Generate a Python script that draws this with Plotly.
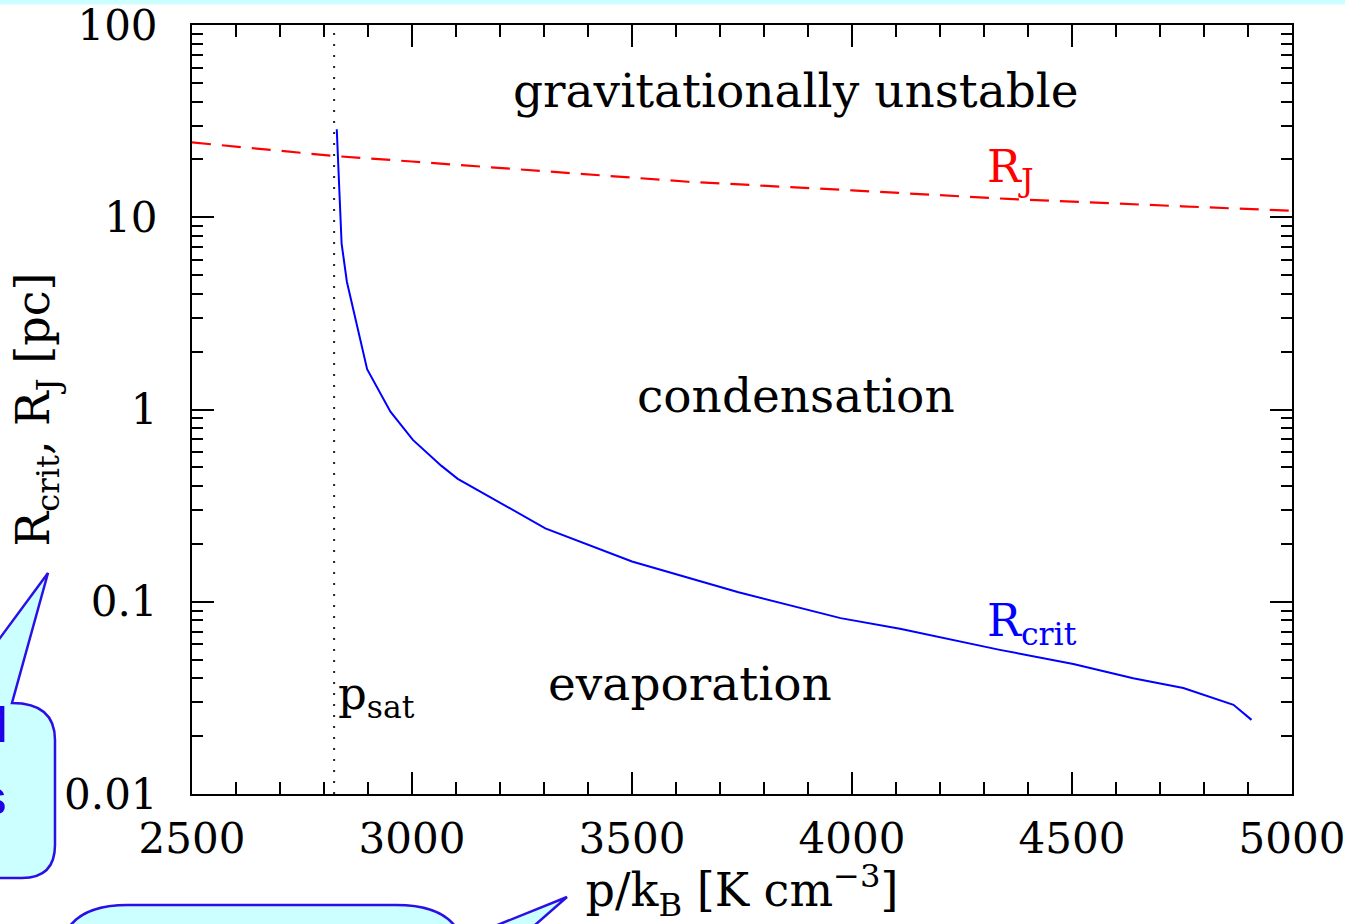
import numpy as np
import plotly.graph_objects as go

# ---- data ----
p_crit = [2829, 2840, 2852, 2898, 2951, 3002, 3067, 3104, 3303, 3500, 3742,
          3974, 4109, 4336, 4503, 4639, 4753, 4867, 4908]
r_crit = [28.7, 7.3, 4.62, 1.62, 0.975, 0.695, 0.509, 0.436, 0.241, 0.162, 0.112,
          0.0822, 0.0723, 0.0562, 0.0475, 0.0400, 0.0356, 0.0291, 0.0243]

p_jeans = [2500, 2827, 3000, 3250, 3627, 4000, 4355, 4750, 5000]
r_jeans = [24.5, 20.8, 19.5, 17.7, 15.3, 13.8, 12.45, 11.4, 10.8]

p_sat = 2823
y_span = [0.01, 100]

x_range = [2500, 5000]
y_range_log = [-2, 2]

region_labels = ["gravitationally unstable", "condensation", "evaporation"]
region_x = [3873, 3873, 3632]
region_y = [45.9, 1.18, 0.0374]

SERIF = "DejaVu Serif"
W, H = 1345, 924
L, R, T, B = 192, 53, 25, 130
PW, PH = W - L - R, H - T - B


def px(x):
    return (x - L) / PW


def py(y):
    return (H - B - y) / PH


fig = go.Figure()
fig.add_trace(go.Scatter(x=p_jeans, y=r_jeans, mode="lines",
                         line=dict(color="#FF0000", width=2.2, dash="19px,11px"),
                         showlegend=False, hoverinfo="skip"))
fig.add_trace(go.Scatter(x=[p_sat, p_sat], y=y_span, mode="lines",
                         line=dict(color="#222222", width=2, dash="2px,9px"),
                         showlegend=False, hoverinfo="skip"))
fig.add_trace(go.Scatter(x=p_crit, y=r_crit, mode="lines",
                         line=dict(color="#0000FF", width=2),
                         showlegend=False, hoverinfo="skip"))

tickfont = dict(family=SERIF, size=42, color="black")
axis_common = dict(ticks="inside", tickwidth=2, tickcolor="black",
                   showline=True, linewidth=2, linecolor="black", mirror="ticks",
                   showgrid=False, zeroline=False, tickfont=tickfont,
                   ticklabeloverflow="allow")

fig.update_xaxes(range=x_range, tick0=2500, dtick=500, ticklen=22,
                 minor=dict(dtick=100, ticks="inside", ticklen=12, tickwidth=2,
                            tickcolor="black", showgrid=False),
                 ticklabelstandoff=7,
                 title=dict(text="p/k<sub>B</sub> [K cm<sup>−3</sup>]",
                            font=dict(family=SERIF, size=46, color="black"),
                            standoff=2),
                 **axis_common)
fig.update_yaxes(type="log", range=y_range_log, dtick=1, ticklen=22,
                 minor=dict(dtick="D1", ticks="inside", ticklen=11, tickwidth=2,
                            tickcolor="black", showgrid=False),
                 ticklabelstandoff=24,
                 title=dict(text="R<sub>crit</sub>, R<sub>J</sub> [pc]",
                            font=dict(family=SERIF, size=46, color="black"),
                            standoff=0),
                 **axis_common)

annotations = []
for txt, xv, yv in zip(region_labels, region_x, region_y):
    annotations.append(dict(x=xv, y=np.log10(yv), xref="x", yref="y", text=txt,
                            showarrow=False, font=dict(family=SERIF, size=47, color="black")))
annotations.append(dict(x=p_sat + 5, y=np.log10(0.0325), xref="x", yref="y",
                        text="p<sub>sat</sub>", xanchor="left", showarrow=False,
                        font=dict(family=SERIF, size=45, color="black")))
annotations.append(dict(x=4302, y=np.log10(17.8), xref="x", yref="y",
                        text="R<sub>J</sub>", xanchor="left", showarrow=False,
                        font=dict(family=SERIF, size=45, color="#FF0000")))
annotations.append(dict(x=4302, y=np.log10(0.0775), xref="x", yref="y",
                        text="R<sub>crit</sub>", xanchor="left", showarrow=False,
                        font=dict(family=SERIF, size=45, color="#0000FF")))
# partially visible callout text at the left edge
annotations.append(dict(x=px(-8), y=py(755), xref="paper", yref="paper", text="<b>l</b>",
                        xanchor="left", showarrow=False,
                        font=dict(family="Liberation Sans", size=50, color="#2000E8")))
annotations.append(dict(x=px(-23), y=py(828), xref="paper", yref="paper", text="<b>s</b>",
                        xanchor="left", showarrow=False,
                        font=dict(family="Liberation Sans", size=50, color="#2000E8")))

BORDER = "#2A10E6"
FILL = "#CCFFFF"


def path(cmds):
    out = []
    for c in cmds:
        if isinstance(c, str):
            out.append(c)
        else:
            out.append(f"{px(c[0]):.5f},{py(c[1]):.5f}")
    return " ".join(out)


shapes = [
    dict(type="rect", xref="paper", yref="paper", x0=px(0), x1=px(W), y0=py(4.5), y1=py(-2),
         fillcolor=FILL, line=dict(width=0), layer="above"),
    dict(type="path", xref="paper", yref="paper", layer="below",
         path=path(["M", (-48, 703), "L", (48, 573), "L", (12, 703), "Q", (55, 703), (55, 740),
                    "L", (55, 845), "Q", (55, 878), (22, 878), "L", (-30, 878), "Z"]),
         fillcolor=FILL, line=dict(color=BORDER, width=2.5)),
    dict(type="path", xref="paper", yref="paper", layer="below",
         path=path(["M", (60, 990), "L", (60, 960), "Q", (60, 905), (128, 905), "L", (396, 905),
                    "Q", (465, 905), (465, 960), "L", (465, 990), "Z"]),
         fillcolor=FILL, line=dict(color=BORDER, width=2.5)),
    dict(type="path", xref="paper", yref="paper", layer="below",
         path=path(["M", (480, 932), "L", (567, 897), "L", (527, 932), "Z"]),
         fillcolor=FILL, line=dict(color=BORDER, width=2.5)),
]

fig.update_layout(width=W, height=H, margin=dict(l=L, r=R, t=T, b=B, autoexpand=False),
                  paper_bgcolor="white", plot_bgcolor="white",
                  annotations=annotations, shapes=shapes, showlegend=False)

fig.write_html("out.html", config={"displayModeBar": False},
               post_script="document.body.style.margin='0';document.body.style.overflow='hidden';")
